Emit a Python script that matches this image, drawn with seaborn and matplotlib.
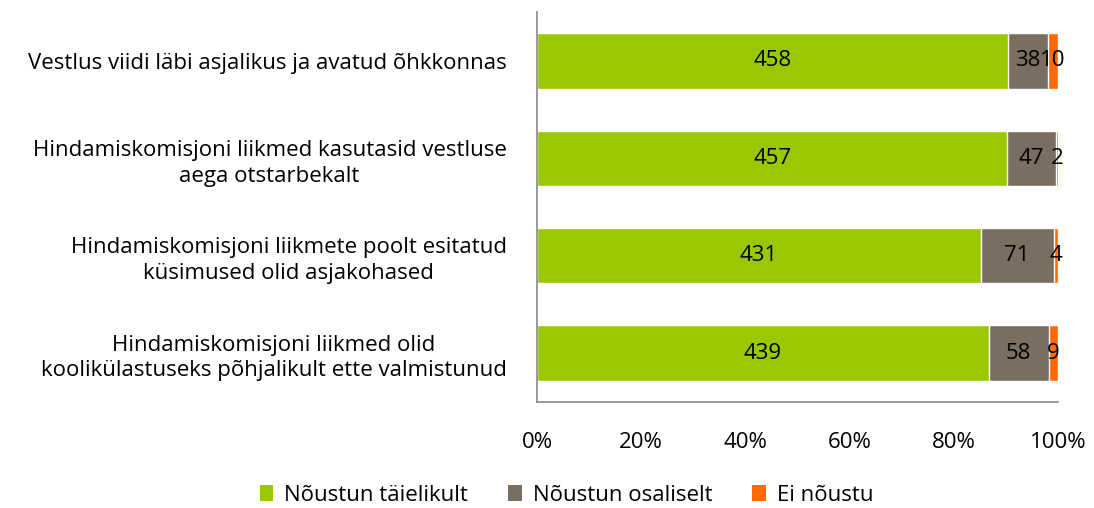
import numpy as np
import pandas as pd
import matplotlib
matplotlib.use("Agg")
import matplotlib.pyplot as plt
from matplotlib.patches import Patch
import seaborn as sns

categories = [
    "Vestlus viidi läbi asjalikus ja avatud õhkkonnas",
    "Hindamiskomisjoni liikmed kasutasid vestluse\naega otstarbekalt",
    "Hindamiskomisjoni liikmete poolt esitatud\nküsimused olid asjakohased",
    "Hindamiskomisjoni liikmed olid\nkoolikülastuseks põhjalikult ette valmistunud",
]
full = [458, 457, 431, 439]
partial = [38, 47, 71, 58]
disagree = [10, 2, 4, 9]
series_names = ["Nõustun täielikult", "Nõustun osaliselt", "Ei nõustu"]
colors = ["#99C800", "#7A6E60", "#FF6A00"]

sns.set_style("white")
plt.rcParams["font.family"] = ["Open Sans", "DejaVu Sans"]
plt.rcParams["text.color"] = "black"
plt.rcParams["xtick.color"] = "black"
plt.rcParams["ytick.color"] = "black"
fs = 16

df = pd.DataFrame({"cat": categories, "full": full, "partial": partial, "disagree": disagree})
total = df[["full", "partial", "disagree"]].sum(axis=1)
df["p_full"] = df["full"] / total * 100
df["p_partial"] = df["partial"] / total * 100
df["p_dis"] = df["disagree"] / total * 100
df["c1"] = df["p_full"]
df["c2"] = df["c1"] + df["p_partial"]
df["c3"] = df["c2"] + df["p_dis"]

fig = plt.figure(figsize=(10.94, 5.08), dpi=100)
ax = fig.add_axes([0.491, 0.209, 0.476, 0.767])

# stacked look: draw cumulative totals back to front
w = 0.57
sns.barplot(data=df, y="cat", x="c3", color=colors[2], width=w, ax=ax, saturation=1, orient="h")
sns.barplot(data=df, y="cat", x="c2", color=colors[1], width=w, ax=ax, saturation=1, orient="h")
sns.barplot(data=df, y="cat", x="c1", color=colors[0], width=w, ax=ax, saturation=1, orient="h")

for i, row in df.iterrows():
    ax.text(row["c1"] / 2, i, str(row["full"]), ha="center", va="center", fontsize=fs)
    ax.text((row["c1"] + row["c2"]) / 2, i, str(row["partial"]), ha="center", va="center", fontsize=fs)
    ax.text((row["c2"] + row["c3"]) / 2, i, str(row["disagree"]), ha="center", va="center", fontsize=fs)

ax.set_xlim(0, 100)
ax.set_ylim(3.5, -0.5)
ax.set_xticks(np.arange(0, 101, 20))
ax.set_xticklabels([f"{v}%" for v in range(0, 101, 20)], fontsize=fs)
ax.tick_params(axis="x", length=0, pad=22)
ax.tick_params(axis="y", length=0, pad=22)
for lab in ax.get_yticklabels():
    lab.set_fontsize(fs)
    lab.set_multialignment("center")
    lab.set_linespacing(1.3)
ax.set_xlabel("")
ax.set_ylabel("")
for s in ["top", "right"]:
    ax.spines[s].set_visible(False)
for s in ["left", "bottom"]:
    ax.spines[s].set_color("#888888")
    ax.spines[s].set_linewidth(1.2)

handles = [Patch(facecolor=c, edgecolor="none") for c in colors]
fig.legend(handles, series_names, loc="lower center", bbox_to_anchor=(0.518, -0.035), ncol=3,
           frameon=False, fontsize=fs, handlelength=0.6, handleheight=0.7, columnspacing=1.8,
           handletextpad=0.5)

fig.savefig("out.png", dpi=100)
